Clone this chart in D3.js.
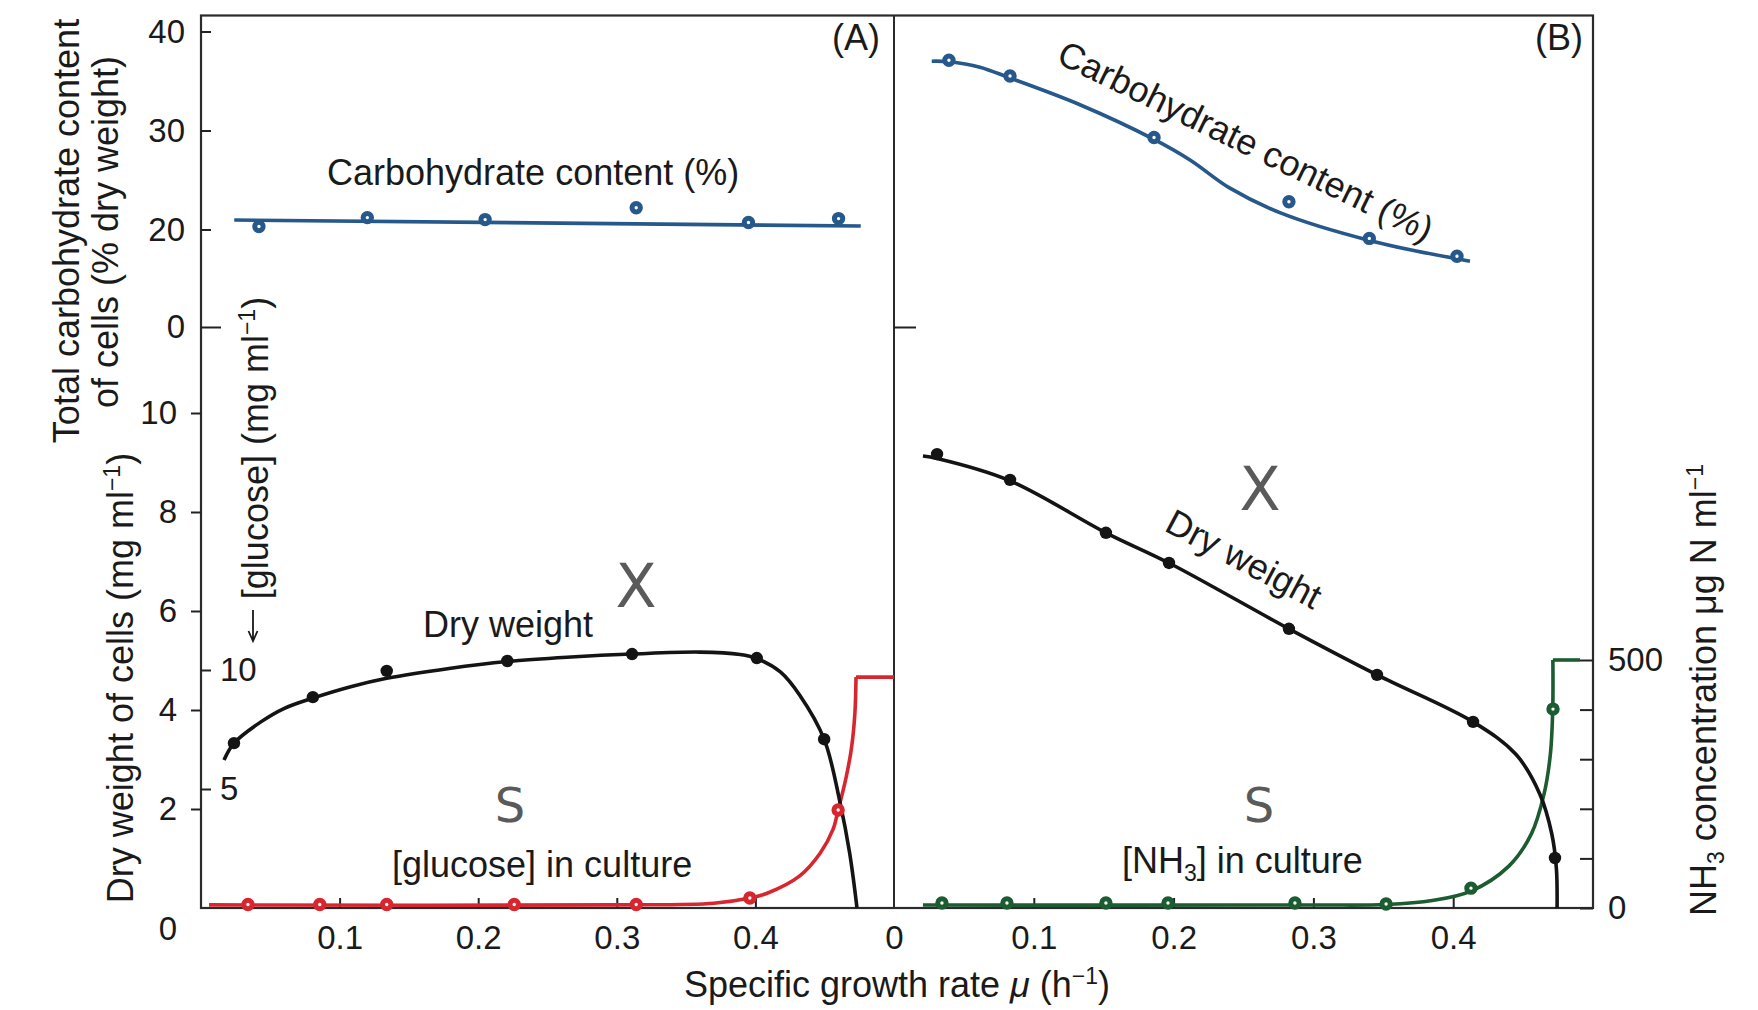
<!DOCTYPE html>
<html>
<head>
<meta charset="utf-8">
<script src="https://cdn.jsdelivr.net/npm/d3@7"></script>
<style>
  body { margin: 0; background: #fff; }
  text { font-family: "Liberation Sans", Arial, Helvetica, sans-serif; fill: #1a1a1a; }
  .big { font-family: "DejaVu Sans", Verdana, sans-serif; fill: #5a5a5a; }
</style>
</head>
<body>
<svg id="chart" width="1758" height="1010"></svg>
<script>
// ---------- Panel A: glucose-limited culture ----------
const muCarbA   = [0.0418, 0.120, 0.205, 0.314, 0.395, 0.460];
const carbA     = [20.3, 21.2, 21.0, 22.2, 20.7, 21.1];
const muCarbFitA = [0.024, 0.476];
const carbFitA   = [20.96, 20.35];

const muDryA  = [0.0238, 0.0807, 0.134, 0.221, 0.311, 0.401, 0.4496];
const dryA    = [3.33, 4.26, 4.79, 4.99, 5.13, 5.05, 3.41];
const muDryFitA = [0.0166, 0.0238, 0.0432, 0.0598, 0.0807, 0.108, 0.134, 0.179, 0.221, 0.267,
                   0.311, 0.360, 0.389, 0.401, 0.418, 0.432, 0.4496, 0.461, 0.468, 0.4733];
const dryFitA   = [2.99, 3.33, 3.76, 4.03, 4.24, 4.47, 4.64, 4.84, 4.98, 5.07,
                   5.13, 5.17, 5.12, 5.04, 4.77, 4.30, 3.41, 2.14, 1.11, 0];

const muGlucA = [0.0339, 0.0857, 0.134, 0.226, 0.314, 0.396, 0.4597];
const glucA   = [0.15, 0.15, 0.15, 0.15, 0.15, 0.42, 4.12];
const muGlucFitA = [0.0058, 0.30, 0.37, 0.396, 0.4085, 0.432, 0.4467, 0.456, 0.4597, 0.4655, 0.4695, 0.4718, 0.4726];
const glucFitA   = [0.13, 0.13, 0.2, 0.42, 0.62, 1.35, 2.3, 3.3, 4.12, 5.5, 6.8, 8.2, 9.7];
const muGlucFeedA = [0.4726, 0.5];
const glucFeedA   = [9.7, 9.7];

// ---------- Panel B: ammonia-limited culture ----------
const muCarbB = [0.0393, 0.083, 0.186, 0.2825, 0.340, 0.4027];
const carbB   = [37.1, 35.5, 29.3, 22.8, 19.1, 17.3];
const muCarbFitB = [0.027, 0.0393, 0.0615, 0.083, 0.133, 0.186, 0.212, 0.240, 0.276, 0.340, 0.412];
const carbFitB   = [37.0, 36.95, 36.4, 35.3, 32.6, 29.1, 27.0, 24.2, 21.7, 18.9, 16.8];

const muDryB = [0.0308, 0.083, 0.1516, 0.1967, 0.2825, 0.3455, 0.4142, 0.4728];
const dryB   = [9.17, 8.65, 7.58, 6.97, 5.64, 4.71, 3.76, 1.01];
const muDryFitB = [0.0207, 0.0308, 0.083, 0.1516, 0.1967, 0.2825, 0.3455, 0.4142, 0.445, 0.462, 0.4705, 0.4738, 0.4743];
const dryFitB   = [9.13, 9.08, 8.63, 7.58, 6.97, 5.64, 4.71, 3.76, 3.10, 2.30, 1.50, 0.8, 0];

const muNH3B = [0.0343, 0.0808, 0.1516, 0.196, 0.2868, 0.352, 0.4127, 0.4714];
const nh3B   = [10, 10, 10, 10, 10, 8, 40, 401];
const muNH3FitB = [0.0207, 0.30, 0.352, 0.385, 0.4127, 0.440, 0.456, 0.465, 0.4695, 0.4712, 0.4713];
const nh3FitB   = [6, 6, 7, 15, 34, 85, 150, 230, 310, 401, 500];
const muNH3FeedB = [0.4713, 0.4907];
const nh3FeedB   = [500, 500];

// ---------- Tick values ----------
const carbTicks = [0, 20, 30, 40];
const dryTicks  = [0, 2, 4, 6, 8, 10];
const glucTicks = [5, 10];
const nh3Ticks  = [0, 100, 200, 300, 400, 500];
const muTicksA  = [0.1, 0.2, 0.3, 0.4];
const muTicksB  = [0, 0.1, 0.2, 0.3, 0.4];

// ---------- Colours ----------
const BLUE = "#26588c", RED = "#d8262f", GREEN = "#1c5c31", BLACK = "#141414";

const svg = d3.select("#chart");
const frame = { left: 201, right: 1593, top: 15.5, bottom: 908, split: 894 };

const xA = d3.scaleLinear().domain([0, 0.5]).range([frame.left, frame.split]);
const xB = d3.scaleLinear().domain([0, 0.5]).range([frame.split, frame.right]);
// broken carbohydrate axis: linear above 15 %, compressed below
const carbY = d3.scaleLinear().domain([0, 15, 40]).range([327, 279, 31.5]);
const dryY  = d3.scaleLinear().domain([0, 10]).range([frame.bottom, 413]);
const glucY = d3.scaleLinear().domain([0, 10]).range([frame.bottom, 670]);
const nh3Y  = d3.scaleLinear().domain([0, 500]).range([frame.bottom, 660]);

const TICK_FS = 33, TEXT_FS = 36;

function styleAxis(g, fs) {
  g.select(".domain").remove();
  g.selectAll(".tick line").attr("stroke", "#222").attr("stroke-width", 2);
  g.selectAll(".tick text").attr("font-size", fs || TICK_FS)
    .attr("font-family", '"Liberation Sans", Arial, sans-serif').attr("fill", "#1a1a1a");
}

// ---------- Frame ----------
svg.append("rect")
  .attr("x", frame.left).attr("y", frame.top)
  .attr("width", frame.right - frame.left).attr("height", frame.bottom - frame.top)
  .attr("fill", "none").attr("stroke", "#2b2b2b").attr("stroke-width", 2.2);
svg.append("line")
  .attr("x1", frame.split).attr("x2", frame.split)
  .attr("y1", frame.top).attr("y2", frame.bottom)
  .attr("stroke", "#2b2b2b").attr("stroke-width", 2);

// ---------- Axes ----------
const gCarb = svg.append("g").attr("transform", `translate(${frame.left},0)`)
  .call(d3.axisLeft(carbY).tickValues(carbTicks).tickSizeInner(-10).tickSizeOuter(0).tickPadding(16));
styleAxis(gCarb);
gCarb.selectAll(".tick").filter(d => d === 0).select("line").attr("x2", 20);

const gDry = svg.append("g").attr("transform", `translate(${frame.left},0)`)
  .call(d3.axisLeft(dryY).tickValues(dryTicks).tickSizeInner(10).tickSizeOuter(0).tickPadding(14));
styleAxis(gDry);
const dryZero = gDry.selectAll(".tick").filter(d => d === 0);
dryZero.select("line").remove();
dryZero.select("text").attr("dy", "0.95em");

const gGluc = svg.append("g").attr("transform", `translate(${frame.left},0)`)
  .call(d3.axisRight(glucY).tickValues(glucTicks).tickSize(10).tickPadding(9));
styleAxis(gGluc);

const gCarbB = svg.append("g").attr("transform", `translate(${frame.split},0)`)
  .call(d3.axisRight(carbY).tickValues([0]).tickSize(22).tickFormat(""));
styleAxis(gCarbB);

const gNH3 = svg.append("g").attr("transform", `translate(${frame.right},0)`)
  .call(d3.axisRight(nh3Y).tickValues(nh3Ticks).tickSizeInner(-13).tickSizeOuter(0).tickPadding(15)
    .tickFormat(d => (d === 0 || d === 500) ? d : ""));
styleAxis(gNH3);

const fmt = d3.format(".1f");
const gXA = svg.append("g").attr("transform", `translate(0,${frame.bottom})`)
  .call(d3.axisBottom(xA).tickValues(muTicksA).tickSizeInner(-10).tickSizeOuter(0).tickPadding(18).tickFormat(fmt));
styleAxis(gXA);
const gXB = svg.append("g").attr("transform", `translate(0,${frame.bottom})`)
  .call(d3.axisBottom(xB).tickValues(muTicksB).tickSizeInner(-10).tickSizeOuter(0).tickPadding(18)
    .tickFormat(d => d === 0 ? "0" : fmt(d)));
styleAxis(gXB);
gXB.selectAll(".tick").filter(d => d === 0).select("line").remove();

// ---------- Series ----------
const smooth = d3.curveCatmullRom.alpha(0.5);
function curve(x, y, mus, vals, color, interp) {
  const line = d3.line().x(d => x(d[0])).y(d => y(d[1])).curve(interp || smooth);
  svg.append("path").datum(d3.zip(mus, vals)).attr("d", line)
    .attr("fill", "none").attr("stroke", color).attr("stroke-width", 3.6)
    .attr("stroke-linejoin", "miter").attr("stroke-linecap", "butt");
}
function points(x, y, mus, vals, color, solid) {
  svg.append("g").selectAll("circle").data(d3.zip(mus, vals)).join("circle")
    .attr("cx", d => x(d[0])).attr("cy", d => y(d[1]))
    .attr("r", solid ? 6.2 : 4.2)
    .attr("fill", solid ? color : "#fff")
    .attr("stroke", color).attr("stroke-width", solid ? 0 : 5);
}

// Panel A
curve(xA, carbY, muCarbFitA, carbFitA, BLUE, d3.curveLinear);
curve(xA, glucY, muGlucFitA, glucFitA, RED);
curve(xA, glucY, muGlucFeedA, glucFeedA, RED, d3.curveLinear);
curve(xA, dryY, muDryFitA, dryFitA, BLACK);
points(xA, carbY, muCarbA, carbA, BLUE, false);
points(xA, glucY, muGlucA, glucA, RED, false);
points(xA, dryY, muDryA, dryA, BLACK, true);

// Panel B
curve(xB, carbY, muCarbFitB, carbFitB, BLUE);
curve(xB, nh3Y, muNH3FitB, nh3FitB, GREEN);
curve(xB, nh3Y, muNH3FeedB, nh3FeedB, GREEN, d3.curveLinear);
curve(xB, dryY, muDryFitB, dryFitB, BLACK);
points(xB, carbY, muCarbB, carbB, BLUE, false);
points(xB, nh3Y, muNH3B, nh3B, GREEN, false);
points(xB, dryY, muDryB, dryB, BLACK, true);

// ---------- Text ----------
// parts: [string, kind] where kind is undefined | "sup" | "sub" | "it"
function rich(parent, parts, attrs) {
  const t = parent.append("text").attr("font-size", TEXT_FS);
  Object.entries(attrs || {}).forEach(([k, v]) => t.attr(k, v));
  let shift = 0;
  parts.forEach(([s, kind]) => {
    const ts = t.append("tspan").text(s);
    let target = 0;
    if (kind === "sup") { ts.attr("font-size", 23); target = -13; }
    if (kind === "sub") { ts.attr("font-size", 23); target = 8; }
    if (kind === "it") ts.attr("font-style", "italic");
    if (target !== shift) { ts.attr("dy", target - shift); shift = target; }
  });
  return t;
}

// axis titles
rich(svg, [["Total carbohydrate content"]], { transform: "translate(79,231) rotate(-90)", "text-anchor": "middle" });
rich(svg, [["of cells (% dry weight)"]], { transform: "translate(118,232) rotate(-90)", "text-anchor": "middle" });
rich(svg, [["Dry weight of cells (mg ml"], ["\u22121", "sup"], [")"]],
  { transform: "translate(133,678) rotate(-90)", "text-anchor": "middle" });
rich(svg, [["[glucose] (mg ml"], ["\u22121", "sup"], [")"]],
  { transform: "translate(268,448) rotate(-90)", "text-anchor": "middle" });
// downward arrow under the glucose title
svg.append("path")
  .attr("d", "M253,610 V640 M248.5,631 L253,641 L257.5,631")
  .attr("fill", "none").attr("stroke", "#1a1a1a").attr("stroke-width", 1.8);
rich(svg, [["NH"], ["3", "sub"], [" concentration \u03bcg N ml"], ["\u22121", "sup"]],
  { transform: "translate(1716,690) rotate(-90)", "text-anchor": "middle" });
rich(svg, [["Specific growth rate "], ["\u03bc", "it"], [" (h"], ["\u22121", "sup"], [")"]],
  { x: 897, y: 997, "text-anchor": "middle" });

// panel letters
rich(svg, [["(A)"]], { x: 880, y: 50, "text-anchor": "end" });
rich(svg, [["(B)"]], { x: 1583, y: 50, "text-anchor": "end" });

// panel A labels
rich(svg, [["Carbohydrate content (%)"]], { x: 327, y: 185 });
rich(svg, [["Dry weight"]], { x: 423, y: 637 });
rich(svg, [["[glucose] in culture"]], { x: 392, y: 877 });
svg.append("text").attr("class", "big").attr("x", 636).attr("y", 607)
  .attr("text-anchor", "middle").attr("font-size", 60).text("X");
svg.append("text").attr("class", "big").attr("x", 510).attr("y", 822)
  .attr("text-anchor", "middle").attr("font-size", 48).text("S");

// panel B labels
rich(svg, [["Carbohydrate content (%)"]], { transform: "translate(1055,62) rotate(26)" });
rich(svg, [["Dry weight"]], { transform: "translate(1163,530) rotate(28)" });
rich(svg, [["[NH"], ["3", "sub"], ["] in culture"]], { x: 1122, y: 873 });
svg.append("text").attr("class", "big").attr("x", 1260).attr("y", 510)
  .attr("text-anchor", "middle").attr("font-size", 60).text("X");
svg.append("text").attr("class", "big").attr("x", 1259).attr("y", 822)
  .attr("text-anchor", "middle").attr("font-size", 48).text("S");
</script>
</body>
</html>
